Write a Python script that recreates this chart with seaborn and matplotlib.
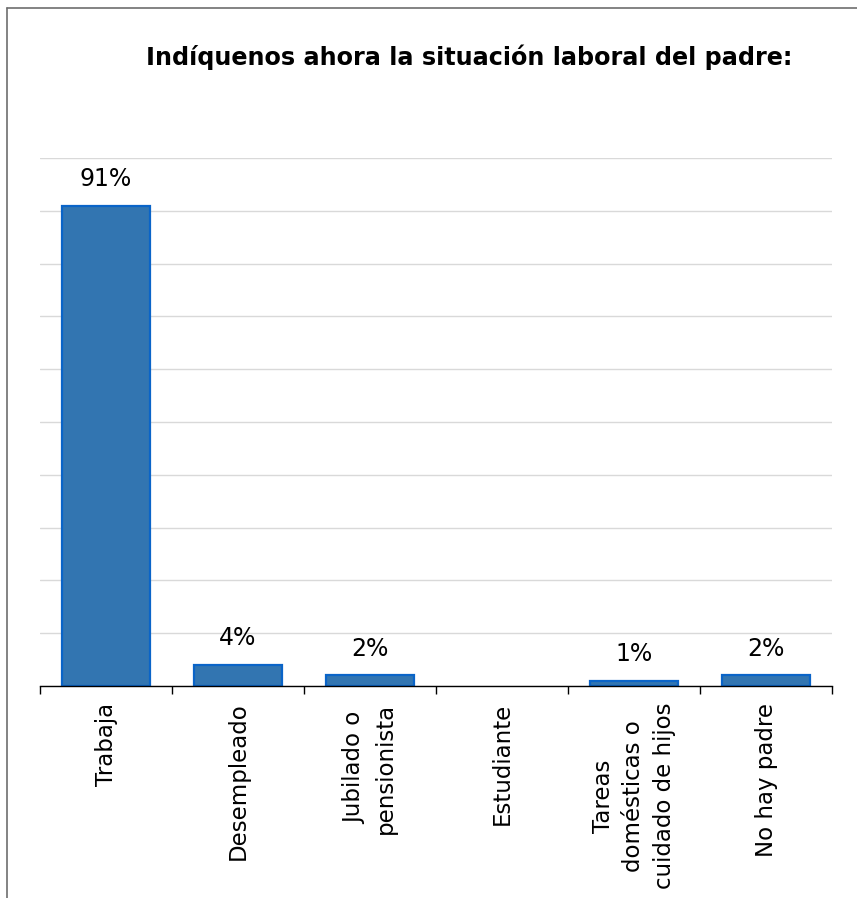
import matplotlib
matplotlib.use("Agg")
import matplotlib.pyplot as plt
import numpy as np
import pandas as pd
import seaborn as sns
from matplotlib.lines import Line2D
from matplotlib.ticker import FixedLocator

# ── data ─────────────────────────────────────────────────────────────────────
categories = [
    "Trabaja",
    "Desempleado",
    "Jubilado o\npensionista",
    "Estudiante",
    "Tareas\ndomésticas o\ncuidado de hijos",
    "No hay padre",
]
percent = [91, 4, 2, 0, 1, 2]
title = "Indíquenos ahora la situación laboral del padre:"

BAR_FILL = "#3275B1"
BAR_EDGE = "#0A64C8"

sns.set_style("white")
plt.rcParams["font.family"] = ["DejaVu Sans"]

df = pd.DataFrame({"cat": categories, "pct": percent})

fig = plt.figure(figsize=(8.57, 8.98), dpi=100)
ax = fig.add_axes([40 / 857, 1 - 686 / 898, 792 / 857, 528 / 898])

sns.barplot(data=df, x="cat", y="pct", ax=ax, color=BAR_FILL, saturation=1,
            width=0.667, edgecolor=BAR_EDGE, linewidth=1.6, zorder=3)

# an empty category shows no bar at all
for patch in ax.patches:
    if patch.get_height() == 0:
        patch.set_visible(False)

ax.set_ylim(0, 100)
ax.set_xlim(-0.5, len(categories) - 0.5)
ax.set_yticks(np.arange(0, 101, 10))
ax.set_yticklabels([])
ax.tick_params(axis="y", length=0)
ax.yaxis.grid(True, color="#D9D9D9", linewidth=1.0, zorder=0)
ax.set_axisbelow(True)
ax.set_xlabel("")
ax.set_ylabel("")

for side in ("left", "right", "top"):
    ax.spines[side].set_visible(False)
ax.spines["bottom"].set_color("black")
ax.spines["bottom"].set_linewidth(1.0)
ax.spines["bottom"].set_zorder(4)

# category labels: rotated, top-anchored, centred lines
ax.set_xticks(range(len(categories)))
ax.set_xticklabels(categories, rotation=90, ha="center", va="top",
                   multialignment="center", linespacing=1.4,
                   fontsize=16.5, color="black")
ax.tick_params(axis="x", which="major", length=0, pad=12, labelcolor="black")
ax.xaxis.set_minor_locator(FixedLocator(np.arange(-0.5, len(categories), 1)))
ax.tick_params(axis="x", which="minor", bottom=True, length=6, width=1,
               color="black", direction="out")

for i, v in enumerate(percent):
    if v > 0:
        ax.annotate(f"{v}%", xy=(i, v), xytext=(0, 10.5), textcoords="offset points",
                    ha="center", va="bottom", fontsize=17, color="black")

fig.text(469 / 857, 1 - 57 / 898, title, ha="center", va="center",
         fontsize=17.2, fontweight="bold", color="black")

# chart frame (left and top edges)
fig.add_artist(Line2D([6.5 / 857, 6.5 / 857], [0, 1 - 8 / 898], transform=fig.transFigure,
                      color="#6E6E6E", linewidth=1.2))
fig.add_artist(Line2D([6.5 / 857, 1], [1 - 8 / 898, 1 - 8 / 898], transform=fig.transFigure,
                      color="#6E6E6E", linewidth=1.2))

fig.savefig("out.png", dpi=100, facecolor="white")
